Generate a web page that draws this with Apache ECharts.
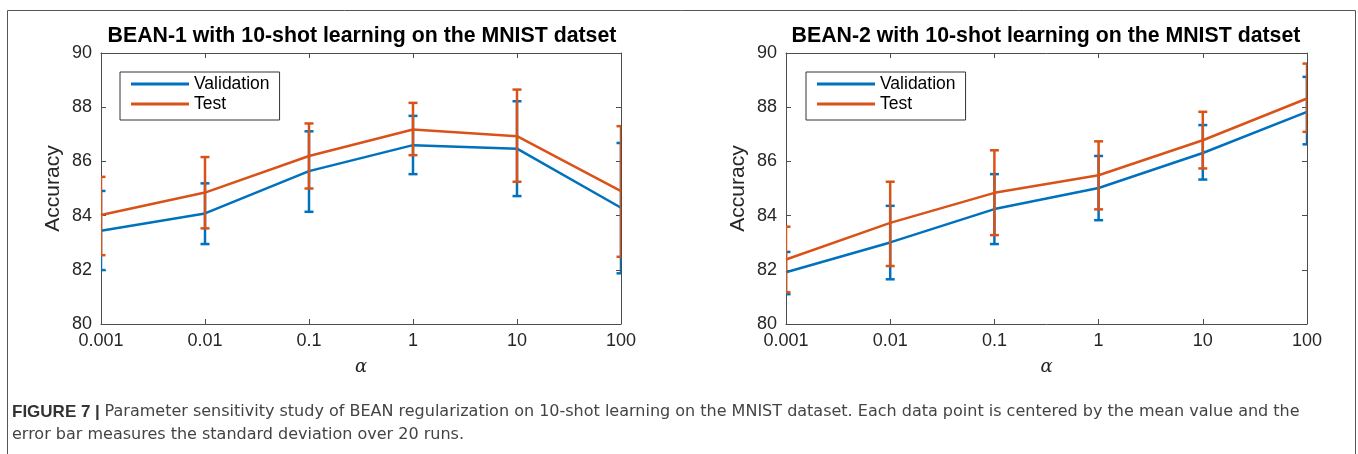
<!DOCTYPE html>
<html><head><meta charset="utf-8">
<script src="https://cdn.jsdelivr.net/npm/echarts@6/dist/echarts.min.js"></script>
<style>html,body{margin:0;padding:0;background:#fff}#c{width:1358px;height:454px}</style>
</head><body><div id="c"></div>
<script>
const categories = ['0.001', '0.01', '0.1', '1', '10', '100'];
const yTicks = [80, 82, 84, 86, 88, 90];

const bean1ValMean  = [83.44, 84.08, 85.64, 86.60, 86.47, 84.29];
const bean1ValLow   = [81.99, 82.95, 84.14, 85.53, 84.72, 81.87];
const bean1ValHigh  = [84.91, 85.19, 87.11, 87.68, 88.22, 86.68];
const bean1TestMean = [84.02, 84.85, 86.20, 87.18, 86.93, 84.90];
const bean1TestLow  = [82.54, 83.53, 85.00, 86.23, 85.25, 82.48];
const bean1TestHigh = [85.43, 86.16, 87.40, 88.16, 88.65, 87.30];

const bean2ValMean  = [81.91, 83.01, 84.24, 85.02, 86.31, 87.83];
const bean2ValLow   = [81.10, 81.65, 82.95, 83.83, 85.33, 86.63];
const bean2ValHigh  = [82.66, 84.36, 85.53, 86.20, 87.34, 89.12];
const bean2TestMean = [82.38, 83.73, 84.84, 85.49, 86.78, 88.32];
const bean2TestLow  = [81.17, 82.14, 83.28, 84.23, 85.74, 87.09];
const bean2TestHigh = [83.59, 85.25, 86.41, 86.74, 87.83, 89.61];

const titles = ['BEAN-1 with 10-shot learning on the MNIST datset', 'BEAN-2 with 10-shot learning on the MNIST datset'];
const captionBold = 'FIGURE 7 | ';
const captionLine1 = 'Parameter sensitivity study of BEAN regularization on 10-shot learning on the MNIST dataset. Each data point is centered by the mean value and the';
const captionLine2 = 'error bar measures the standard deviation over 20 runs.';

const BLUE = '#0072BD', ORANGE = '#D95319', AX = '#4d4d4d', TXT = '#262626';
const FONT = '"Liberation Sans", Arial, Helvetica, sans-serif';
const CAPFONT = '"DejaVu Sans", "Liberation Sans", sans-serif';

const grids = [
  {left: 101, top: 53, width: 520, height: 271},
  {left: 786, top: 53, width: 521, height: 271}
];

const chart = echarts.init(document.getElementById('c'), null, {renderer: 'canvas'});

const xAxes = [], yAxes = [], series = [], legends = [];
grids.forEach((g, gi) => {
  xAxes.push({
    type: 'category', gridIndex: gi, data: categories, boundaryGap: false, position: 'bottom',
    axisLine: {lineStyle: {color: AX, width: 1}},
    axisTick: {inside: true, length: 5, lineStyle: {color: AX}},
    axisLabel: {color: TXT, fontSize: 18, fontFamily: FONT, margin: 8},
    name: 'α', nameLocation: 'middle', nameGap: 34,
    nameTextStyle: {fontFamily: '"DejaVu Serif", "Liberation Serif", serif', fontStyle: 'italic', fontSize: 18, color: TXT},
    splitLine: {show: false}
  });
  xAxes.push({
    type: 'category', gridIndex: gi, data: categories, boundaryGap: false, position: 'top',
    axisLine: {lineStyle: {color: AX, width: 1}},
    axisTick: {inside: true, length: 5, lineStyle: {color: AX}},
    axisLabel: {show: false}, splitLine: {show: false}
  });
  yAxes.push({
    type: 'value', gridIndex: gi, min: 80, max: 90, interval: 2, position: 'left',
    axisLine: {show: true, lineStyle: {color: AX, width: 1}},
    axisTick: {show: true, inside: true, length: 5, lineStyle: {color: AX}},
    axisLabel: {color: TXT, fontSize: 18, fontFamily: FONT, margin: 9},
    name: 'Accuracy', nameLocation: 'middle', nameGap: 37,
    nameTextStyle: {fontFamily: FONT, fontSize: 21, color: TXT},
    splitLine: {show: false}
  });
  yAxes.push({
    type: 'value', gridIndex: gi, min: 80, max: 90, interval: 2, position: 'right',
    axisLine: {show: true, lineStyle: {color: AX, width: 1}},
    axisTick: {show: true, inside: true, length: 5, lineStyle: {color: AX}},
    axisLabel: {show: false}, splitLine: {show: false}
  });
});

function errSeries(name, gi, low, high, color, z) {
  return {
    type: 'custom', name: name, xAxisIndex: gi * 2, yAxisIndex: gi * 2, clip: true, z: z,
    data: categories.map((c, i) => [i, low[i], high[i]]),
    encode: {x: 0, y: [1, 2]},
    renderItem: function (params, api) {
      const x = api.value(0);
      const lo = api.coord([x, api.value(1)]);
      const hi = api.coord([x, api.value(2)]);
      const w = 4.5;
      const st = {stroke: color, lineWidth: 2.5};
      return {type: 'group', children: [
        {type: 'line', shape: {x1: lo[0], y1: lo[1], x2: hi[0], y2: hi[1]}, style: st},
        {type: 'line', shape: {x1: lo[0] - w, y1: lo[1], x2: lo[0] + w, y2: lo[1]}, style: st},
        {type: 'line', shape: {x1: hi[0] - w, y1: hi[1], x2: hi[0] + w, y2: hi[1]}, style: st}
      ]};
    }
  };
}
function lineSeries(name, gi, vals, color, z) {
  return {
    type: 'line', name: name, xAxisIndex: gi * 2, yAxisIndex: gi * 2, data: vals,
    symbol: 'none', z: z, lineStyle: {color: color, width: 2.5}, itemStyle: {color: color}
  };
}

const sets = [
  [bean1ValMean, bean1ValLow, bean1ValHigh, bean1TestMean, bean1TestLow, bean1TestHigh],
  [bean2ValMean, bean2ValLow, bean2ValHigh, bean2TestMean, bean2TestLow, bean2TestHigh]
];
sets.forEach((s, gi) => {
  series.push(lineSeries('Validation', gi, s[0], BLUE, 2));
  series.push(errSeries('valErr' + gi, gi, s[1], s[2], BLUE, 2));
  series.push(lineSeries('Test', gi, s[3], ORANGE, 3));
  series.push(errSeries('testErr' + gi, gi, s[4], s[5], ORANGE, 3));
});

[120, 806].forEach((lx) => {
  legends.push({
    left: lx, top: 72, orient: 'vertical', data: ['Validation', 'Test'],
    icon: 'rect', itemWidth: 58, itemHeight: 3, itemGap: 2,
    padding: [3, 10, 7, 11],
    borderColor: '#333', borderWidth: 1, backgroundColor: '#fff',
    textStyle: {fontSize: 17.5, fontFamily: FONT, color: '#000', lineHeight: 17},
    selectedMode: false
  });
});

const graphic = [
  {type: 'line', shape: {x1: 7.5, y1: 10.5, x2: 1355.5, y2: 10.5}, style: {stroke: '#555', lineWidth: 1}},
  {type: 'line', shape: {x1: 7.5, y1: 10.5, x2: 7.5, y2: 454}, style: {stroke: '#555', lineWidth: 1}},
  {type: 'line', shape: {x1: 1355.5, y1: 10.5, x2: 1355.5, y2: 454}, style: {stroke: '#555', lineWidth: 1}},
  {type: 'text', style: {x: 362, y: 36, text: titles[0], textAlign: 'center', textVerticalAlign: 'middle',
    font: 'bold 21.3px ' + FONT, fill: '#000'}},
  {type: 'text', style: {x: 1046, y: 36, text: titles[1], textAlign: 'center', textVerticalAlign: 'middle',
    font: 'bold 21.3px ' + FONT, fill: '#000'}},
  {type: 'text', style: {x: 12, y: 412, textVerticalAlign: 'middle',
    text: '{b|' + captionBold + '}{n|' + captionLine1 + '}',
    rich: {b: {fontFamily: FONT, fontWeight: 'bold', fontSize: 17, fill: '#333', color: '#333'},
           n: {fontFamily: CAPFONT, fontSize: 16, fill: '#444', color: '#444'}}}},
  {type: 'text', style: {x: 12, y: 435, textVerticalAlign: 'middle', text: captionLine2,
    font: '16px ' + CAPFONT, fill: '#444'}}
];

chart.setOption({
  animation: false,
  backgroundColor: '#fff',
  grid: grids,
  xAxis: xAxes,
  yAxis: yAxes,
  legend: legends,
  series: series,
  graphic: graphic
});
</script></body></html>
